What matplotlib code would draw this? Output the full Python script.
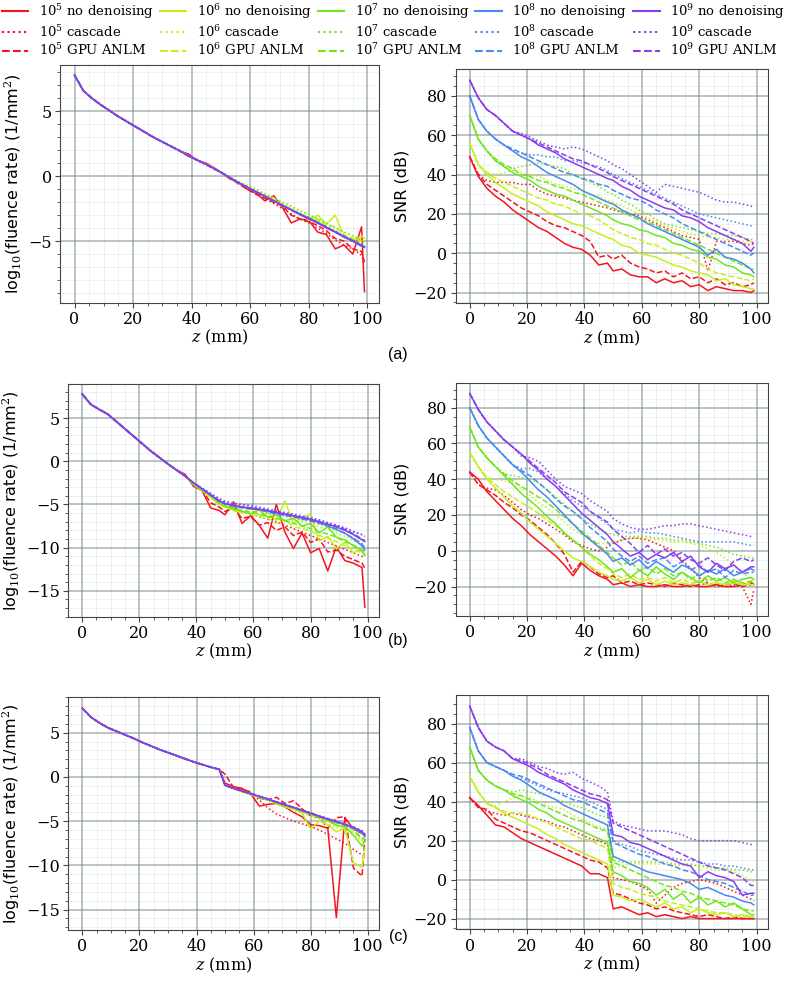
import matplotlib
matplotlib.use("Agg")
import matplotlib.pyplot as plt
from matplotlib.lines import Line2D
from matplotlib.ticker import MultipleLocator

plt.rcParams['font.family'] = ['DejaVu Serif']
plt.rcParams['mathtext.fontset'] = 'dejavuserif'

# ---------------- data ----------------
Z = [0, 3, 6, 9, 12, 15, 18, 21, 24, 27, 30, 33, 36, 39, 42, 45, 48,
     50, 53, 56, 59, 62, 65, 68, 71, 74, 77, 80, 83, 86, 89, 92, 95, 98, 99]

counts = ['5', '6', '7', '8', '9']
methods = ['nd', 'cas', 'anlm']
method_names = ['no denoising', 'cascade', 'GPU ANLM']
panel_labels = ['(a)', '(b)', '(c)']

# ---- SNR (dB), panel (a)
a_snr_5_nd = [49,39,33,29,26,22,19,16,13,11,8,5,3,2,-1,-6,-5, -9,-8,-11,-12,-12,-15,-13,-15,-14,-17,-16,-19,-17,-18,-19,-19,-20, -19]
a_snr_5_cas = [49,40,37,36,36,36,35,35,32,30,29,28,27,26,25,24,23, 22,21,20,19,17,15,13,11,9,8,7,-9,6,6,6,5,4, 5]
a_snr_5_anlm = [49,40,35,32,29,26,23,21,19,16,14,13,11,9,6,-2,-1, -3,-1,-5,-7,-8,-10,-9,-12,-10,-13,-12,-15,-13,-16,-15,-17,-16, -15]
a_snr_6_nd = [56,45,40,36,33,30,28,26,24,21,19,17,15,14,12,10,8, 7,4,3,0,-1,-2,-4,-6,-7,-9,-10,-11,-14,-13,-16,-17,-18, -18]
a_snr_6_cas = [56,45,41,40,41,42,41,40,39,37,35,34,33,32,30,29,27, 26,24,22,20,18,16,14,13,11,10,9,8,8,7,7,6,6, 6]
a_snr_6_anlm = [56,45,41,38,36,34,32,30,28,27,25,24,22,20,19,17,14, 12,10,8,7,5,4,2,0,-1,-3,-5,-8,-10,-11,-12,-13,-14, -13]
a_snr_7_nd = [70,58,52,47,44,41,39,37,34,32,30,29,27,25,23,21,19, 17,15,14,12,11,9,8,5,4,2,1,-2,-3,-6,-7,-10,-11, -12]
a_snr_7_cas = [70,58,52,47,44,43,44,45,46,45,44,43,40,38,36,34,31, 30,27,25,22,20,17,15,14,13,12,11,10,10,9,9,8,7, 7]
a_snr_7_anlm = [70,58,52,48,45,43,40,39,37,36,34,33,31,30,28,26,24, 23,21,19,17,16,14,12,10,8,6,4,2,0,-2,-4,-6,-8, -8]
a_snr_8_nd = [80,68,62,58,55,52,49,47,44,41,39,37,35,32,30,28,26, 25,22,20,18,15,13,11,9,7,5,3,-1,2,-2,-3,-5,-8, -10]
a_snr_8_cas = [80,68,62,58,55,52,51,50,50,49,49,47,47,46,45,44,42, 40,38,36,34,32,30,28,26,24,22,20,19,18,17,16,15,14, 13]
a_snr_8_anlm = [80,68,62,58,55,53,51,49,47,45,43,41,40,38,37,35,34, 32,30,28,27,25,22,20,18,15,13,11,9,7,5,3,1,-1, 0]
a_snr_9_nd = [88,79,73,70,66,62,60,58,55,53,51,48,46,44,42,40,38, 37,34,32,29,27,25,23,22,19,18,16,13,11,9,7,5,1, 3]
a_snr_9_cas = [88,79,73,70,66,62,61,59,57,55,54,53,54,53,51,49,47, 45,43,40,37,34,31,35,34,33,32,31,29,27,26,26,25,24, 23]
a_snr_9_anlm = [88,79,73,70,66,62,60,58,56,54,52,50,48,47,45,43,41, 39,37,35,33,31,29,27,25,22,20,18,16,14,12,10,8,6, 5]

# ---- SNR (dB), panel (b)
b_snr_5_nd = [44,40,33,28,23,18,14,9,5,1,-3,-8,-14,-7,-11,-14,-16, -19,-18,-20,-19,-20,-20,-19,-20,-20,-19,-20,-20,-19,-20,-20,-19,-18, -19]
b_snr_5_cas = [44,37,35,34,31,27,23,20,18,15,12,9,5,3,1,0,2, 4,6,7,7,6,4,2,0,-5,-10,-15,-18,-19,-20,-19,-20,-30, -22]
b_snr_5_anlm = [44,37,34,31,27,24,20,17,13,9,4,-2,-12,-6,-9,-13,-15, -14,-18,-17,-19,-18,-19,-20,-18,-19,-20,-19,-18,-20,-19,-18,-20,-19, -18]
b_snr_6_nd = [55,47,40,35,30,25,21,16,12,8,4,0,-4,-6,-9,-12,-14, -16,-17,-15,-18,-16,-19,-17,-19,-18,-19,-17,-19,-18,-19,-18,-19,-19, -19]
b_snr_6_cas = [55,47,41,40,39,38,35,31,27,24,20,16,12,9,6,4,4, 5,6,7,7,7,6,6,5,5,4,3,1,-1,-4,-8,-12,-16, -18]
b_snr_6_anlm = [55,47,41,37,33,30,27,24,21,17,14,10,6,2,-3,-7,-10, -13,-15,-13,-16,-15,-17,-15,-18,-16,-18,-17,-19,-18,-19,-17,-19,-18, -18]
b_snr_7_nd = [69,58,52,47,42,37,32,28,24,19,15,10,6,2,-2,-5,-9, -12,-10,-15,-11,-14,-9,-13,-16,-12,-15,-18,-14,-17,-15,-18,-16,-15, -16]
b_snr_7_cas = [69,58,52,47,43,42,41,40,38,34,30,26,22,18,15,12,10, 9,8,8,8,8,7,7,6,6,5,4,3,2,0,-2,-3,-4, -4]
b_snr_7_anlm = [69,58,52,47,43,39,36,33,30,27,23,19,15,11,7,3,-1, -4,-8,-6,-11,-9,-13,-10,-14,-12,-16,-13,-17,-15,-18,-16,-18,-17, -17]
b_snr_8_nd = [80,70,63,58,53,48,44,39,34,30,25,20,15,10,6,2,-2, -6,-4,-8,-5,-10,-6,-9,-12,-8,-10,-14,-11,-13,-10,-14,-12,-10, -11]
b_snr_8_cas = [80,70,63,58,53,48,46,46,44,40,36,32,28,25,22,18,15, 12,11,10,11,10,10,9,8,7,6,5,5,5,5,5,4,3, 3]
b_snr_8_anlm = [80,70,63,58,53,48,45,42,38,34,29,25,22,18,13,9,5, 1,-3,-6,-3,-7,-5,-4,-9,-6,-11,-8,-12,-10,-15,-11,-13,-12, -12]
b_snr_9_nd = [88,79,72,67,62,58,54,49,45,40,36,31,26,21,17,13,9, 5,1,-3,-1,-5,-2,-4,-1,-6,-3,-9,-12,-7,-10,-8,-12,-9, -9]
b_snr_9_cas = [88,79,72,67,62,58,53,52,50,45,40,36,34,32,28,25,22, 18,15,13,12,12,13,14,14,15,15,14,13,12,11,10,9,8, 8]
b_snr_9_anlm = [88,79,72,67,62,58,54,50,46,42,38,33,30,27,22,19,16, 12,8,4,-1,3,-2,1,-3,-1,-5,-7,-4,-8,-11,-6,-4,-6, -5]

# ---- SNR (dB), panel (c)
c_snr_5_nd = [42,38,33,28,27,24,21,19,17,15,13,11,9,7,3,3,1, -15,-14,-16,-18,-17,-19,-18,-19,-20,-19,-20,-20,-20,-20,-20,-20,-20, -20]
c_snr_5_cas = [42,37,35,34,33,34,33,32,31,30,28,27,25,23,21,20,18, 1,0,-1,-3,-5,-12,-8,-4,-2,-1,0,-1,-2,-4,-6,-8,-10, -11]
c_snr_5_anlm = [42,37,36,31,29,27,25,24,22,20,18,16,14,12,10,9,6, -7,-8,-10,-12,-13,-15,-14,-16,-17,-18,-19,-18,-19,-20,-19,-20,-20, -20]
c_snr_6_nd = [53,45,39,37,34,32,30,28,26,23,21,18,16,14,12,10,8, -8,-9,-11,-10,-12,-14,-12,-15,-14,-17,-15,-17,-18,-17,-19,-18,-19, -19]
c_snr_6_cas = [53,45,39,38,40,42,43,42,40,38,37,36,33,31,29,27,26, 6,7,8,8,8,8,8,7,7,7,7,6,5,5,4,2,0, -1]
c_snr_6_anlm = [53,45,39,37,35,34,34,33,31,29,27,25,23,21,20,18,16, -2,-4,-5,-7,-8,-9,-11,-12,-13,-14,-15,-16,-17,-17,-18,-19,-19, -19]
c_snr_7_nd = [68,56,51,48,46,43,41,39,36,34,31,29,27,25,23,21,19, 4,2,-1,-2,-4,-8,-5,-10,-7,-12,-9,-13,-11,-14,-12,-15,-18, -18]
c_snr_7_cas = [68,56,51,48,46,45,46,45,44,43,41,40,38,37,35,33,32, 10,9,9,9,9,9,9,8,8,8,7,7,6,6,5,5,4, 4]
c_snr_7_anlm = [68,56,51,48,46,44,43,41,39,37,35,33,31,30,28,26,25, 9,7,5,3,1,-1,-3,-4,-6,-7,-9,-10,-11,-12,-13,-15,-16, -16]
c_snr_8_nd = [78,66,60,58,56,53,51,48,45,43,41,38,36,34,32,30,28, 12,10,8,6,4,3,2,1,0,-2,-5,-4,-6,-8,-9,-11,-12, -13]
c_snr_8_cas = [78,66,60,58,56,53,52,50,48,46,45,44,43,42,40,38,36, 20,18,17,15,14,13,12,11,10,10,9,8,8,7,7,6,5, 5]
c_snr_8_anlm = [78,66,60,58,56,54,53,51,49,47,45,43,41,40,38,36,34, 19,17,15,13,12,10,8,7,5,4,2,0,-1,-2,-4,-6,-8, -8]
c_snr_9_nd = [89,78,71,68,66,62,60,58,55,53,51,49,46,44,42,41,39, 23,22,19,18,16,14,12,10,8,7,1,4,2,1,-1,-8,-7, -7]
c_snr_9_cas = [89,78,71,68,66,62,62,60,58,57,55,54,55,52,50,48,45, 30,28,27,26,25,25,25,24,23,21,20,20,20,20,20,19,18, 18]
c_snr_9_anlm = [89,78,71,68,66,62,61,59,57,54,52,50,48,46,44,43,41, 29,27,25,23,21,19,17,15,13,11,9,7,6,5,3,1,-3, -3]

# ---- log10 fluence rate: shared head (z = 0..33) and per-series tails (z = 36..99)
a_flu_head = [7.8,6.6,6.0,5.5,5.05,4.6,4.2,3.8,3.4,3.0,2.65,2.3]
a_flu_5_nd = [1.95,1.7,1.2,1.0,0.6, 0.3,-0.2,-0.5,-1.0,-1.3,-1.9,-1.5,-2.4,-3.6,-3.3,-3.4,-4.3,-4.5,-5.6,-5.3,-6.0,-3.9, -8.9]
a_flu_5_cas = [1.95,1.55,1.2,0.9,0.55, 0.3,-0.1,-0.5,-0.9,-1.3,-1.7,-2.1,-2.5,-2.9,-3.3,-3.6,-4.0,-4.4,-4.9,-5.3,-5.6,-6.1, -6.8]
a_flu_5_anlm = [1.95,1.6,1.2,0.9,0.5, 0.3,-0.1,-0.6,-1.0,-1.4,-1.7,-2.0,-2.3,-3.0,-3.3,-3.5,-3.8,-4.2,-4.8,-5.0,-5.6,-5.8, -6.6]
a_flu_6_nd = [1.95,1.55,1.25,0.9,0.55, 0.3,-0.1,-0.5,-0.85,-1.2,-1.5,-1.8,-2.2,-2.5,-2.9,-3.4,-3.0,-3.7,-3.0,-4.6,-5.0,-4.6, -4.8]
a_flu_6_cas = [1.95,1.55,1.25,0.9,0.55, 0.3,-0.1,-0.45,-0.75,-1.05,-1.4,-1.7,-2.0,-2.35,-2.7,-3.0,-3.3,-3.65,-4.0,-4.3,-4.6,-4.9, -5.0]
a_flu_6_anlm = [1.95,1.55,1.25,0.9,0.55, 0.3,-0.1,-0.5,-0.85,-1.2,-1.5,-1.85,-2.2,-2.55,-2.9,-3.2,-3.3,-3.8,-3.9,-4.5,-4.8,-5.0, -5.1]
a_flu_7_nd = [1.95,1.55,1.25,0.9,0.55, 0.3,-0.1,-0.5,-0.85,-1.2,-1.55,-1.9,-2.2,-2.6,-2.9,-3.2,-3.5,-3.9,-4.3,-4.7,-4.9,-5.3, -5.4]
a_flu_7_cas = [1.95,1.55,1.25,0.9,0.55, 0.3,-0.05,-0.4,-0.7,-1.0,-1.35,-1.65,-2.0,-2.3,-2.65,-2.95,-3.3,-3.6,-3.95,-4.3,-4.6,-4.95, -5.1]
a_flu_7_anlm = [1.95,1.55,1.25,0.9,0.55, 0.3,-0.1,-0.5,-0.85,-1.2,-1.5,-1.9,-2.2,-2.6,-2.9,-3.3,-3.5,-4.0,-4.2,-4.7,-4.9,-5.3, -5.4]
a_flu_8_nd = [1.95,1.55,1.25,0.9,0.55, 0.3,-0.1,-0.5,-0.85,-1.2,-1.55,-1.9,-2.25,-2.6,-2.95,-3.3,-3.6,-4.0,-4.3,-4.7,-5.0,-5.4, -5.5]
a_flu_8_cas = [1.95,1.55,1.25,0.9,0.55, 0.3,-0.1,-0.5,-0.85,-1.2,-1.55,-1.9,-2.25,-2.6,-2.9,-3.2,-3.55,-3.9,-4.25,-4.6,-4.95,-5.3, -5.4]
a_flu_8_anlm = [1.95,1.55,1.25,0.9,0.55, 0.3,-0.1,-0.5,-0.85,-1.2,-1.55,-1.9,-2.25,-2.6,-2.95,-3.25,-3.6,-3.95,-4.3,-4.65,-5.0,-5.35, -5.45]
a_flu_9_nd = [1.95,1.55,1.25,0.9,0.55, 0.3,-0.1,-0.5,-0.85,-1.2,-1.55,-1.9,-2.25,-2.6,-2.95,-3.25,-3.6,-3.95,-4.3,-4.65,-5.0,-5.35, -5.45]
a_flu_9_cas = [1.95,1.55,1.25,0.9,0.55, 0.3,-0.1,-0.5,-0.85,-1.2,-1.55,-1.9,-2.25,-2.6,-2.9,-3.25,-3.6,-3.9,-4.25,-4.6,-4.95,-5.3, -5.4]
a_flu_9_anlm = [1.95,1.55,1.25,0.9,0.55, 0.3,-0.1,-0.5,-0.85,-1.2,-1.55,-1.9,-2.25,-2.6,-2.95,-3.25,-3.6,-3.95,-4.3,-4.65,-5.0,-5.35, -5.45]

b_flu_head = [7.8,6.6,6.0,5.45,4.6,3.75,2.9,2.05,1.2,0.45,-0.3,-1.0]
b_flu_5_nd = [-1.5,-2.9,-3.4,-5.4,-5.7, -6.2,-4.7,-7.2,-6.3,-7.4,-8.9,-5.0,-8.2,-10.1,-8.3,-10.6,-10.1,-12.7,-9.9,-11.5,-11.8,-12.3, -16.9]
b_flu_5_cas = [-1.7,-2.6,-3.2,-4.0,-4.9, -5.2,-5.5,-5.8,-6.1,-6.4,-6.7,-7.0,-7.4,-7.8,-8.2,-8.6,-9.0,-9.4,-9.8,-10.2,-10.6,-11.0, -11.2]
b_flu_5_anlm = [-1.6,-2.8,-3.3,-4.8,-5.3, -5.8,-5.5,-6.6,-6.4,-7.4,-7.1,-8.0,-7.6,-8.6,-8.2,-9.4,-9.0,-10.5,-10.3,-11.0,-11.4,-11.8, -12.4]
b_flu_6_nd = [-1.7,-2.7,-3.4,-4.2,-5.0, -5.3,-5.7,-6.0,-5.4,-6.3,-6.0,-6.8,-4.6,-7.2,-6.5,-6.1,-9.2,-8.7,-10.1,-9.4,-10.6,-10.2, -10.8]
b_flu_6_cas = [-1.7,-2.5,-3.1,-3.8,-4.5, -4.8,-5.1,-5.3,-5.5,-5.7,-5.9,-6.2,-6.4,-6.7,-7.0,-7.3,-7.6,-7.9,-8.3,-8.7,-9.2,-9.6, -9.9]
b_flu_6_anlm = [-1.7,-2.7,-3.4,-4.1,-4.9, -5.3,-5.6,-5.9,-6.1,-6.4,-6.6,-7.2,-6.8,-7.6,-7.8,-8.1,-8.6,-8.9,-9.3,-9.8,-10.2,-10.6, -10.9]
b_flu_7_nd = [-1.7,-2.6,-3.3,-4.0,-4.8, -5.2,-5.5,-5.8,-6.1,-5.6,-6.5,-6.2,-6.9,-6.6,-7.5,-7.2,-8.3,-7.6,-8.8,-9.1,-9.8,-10.4, -10.9]
b_flu_7_cas = [-1.7,-2.5,-3.1,-3.8,-4.5, -4.8,-5.0,-5.2,-5.4,-5.6,-5.8,-6.0,-6.3,-6.5,-6.8,-7.0,-7.3,-7.6,-8.0,-8.4,-8.9,-9.5, -9.8]
b_flu_7_anlm = [-1.7,-2.6,-3.3,-4.0,-4.8, -5.1,-5.4,-5.7,-5.9,-6.1,-6.4,-6.6,-6.9,-7.2,-7.5,-7.8,-8.2,-8.4,-8.8,-9.3,-9.7,-10.3, -10.7]
b_flu_8_nd = [-1.7,-2.5,-3.2,-3.9,-4.6, -4.9,-5.2,-5.3,-5.5,-5.6,-5.8,-6.0,-6.2,-6.3,-6.6,-6.8,-7.1,-7.5,-7.9,-8.3,-9.0,-9.8, -10.3]
b_flu_8_cas = [-1.7,-2.5,-3.1,-3.7,-4.3, -4.6,-4.8,-5.0,-5.1,-5.3,-5.5,-5.7,-5.9,-6.1,-6.3,-6.5,-6.8,-7.1,-7.4,-7.8,-8.2,-8.5, -8.7]
b_flu_8_anlm = [-1.7,-2.5,-3.2,-3.9,-4.6, -4.9,-5.2,-5.4,-5.5,-5.6,-5.9,-6.1,-6.3,-6.4,-6.7,-6.9,-7.2,-7.4,-7.8,-8.4,-8.9,-9.6, -10.0]
b_flu_9_nd = [-1.7,-2.5,-3.2,-3.9,-4.6, -4.9,-5.1,-5.3,-5.4,-5.55,-5.7,-5.9,-6.1,-6.3,-6.5,-6.7,-7.0,-7.3,-7.6,-8.0,-8.5,-9.1, -9.3]
b_flu_9_cas = [-1.7,-2.5,-3.2,-3.8,-4.4, -4.7,-4.9,-5.0,-5.2,-5.4,-5.6,-5.8,-6.0,-6.2,-6.4,-6.6,-6.8,-7.1,-7.4,-7.7,-8.1,-8.5, -8.7]
b_flu_9_anlm = [-1.7,-2.5,-3.2,-3.9,-4.6, -4.9,-5.1,-5.3,-5.45,-5.6,-5.7,-6.0,-6.1,-6.4,-6.5,-6.8,-7.0,-7.3,-7.5,-7.9,-8.4,-9.0, -9.2]

c_flu_head = [7.75,6.75,6.1,5.55,5.15,4.75,4.35,3.9,3.5,3.1,2.75,2.4]
c_flu_5_nd = [2.05,1.7,1.4,1.1,0.85, -0.7,-1.1,-1.3,-1.9,-3.3,-3.1,-3.0,-3.4,-4.0,-4.5,-5.4,-5.5,-5.8,-15.9,-4.6,-5.9,-6.4, -6.6]
c_flu_5_cas = [2.05,1.7,1.4,1.1,0.85, -0.9,-1.3,-1.6,-2.0,-2.6,-3.5,-4.2,-4.6,-5.0,-5.3,-5.6,-6.0,-6.5,-7.0,-7.5,-8.2,-8.8, -9.0]
c_flu_5_anlm = [2.05,1.7,1.4,1.1,0.85, 0.3,-1.2,-1.4,-1.7,-2.4,-2.6,-2.3,-3.0,-2.7,-3.6,-4.4,-4.6,-5.8,-4.6,-4.5,-10.3,-11.2, -7.0]
c_flu_6_nd = [2.05,1.7,1.4,1.1,0.85, -0.95,-1.3,-1.7,-2.0,-2.3,-2.6,-3.0,-3.4,-3.6,-4.1,-5.9,-5.0,-5.4,-6.2,-5.8,-9.7,-10.2, -8.0]
c_flu_6_cas = [2.05,1.7,1.4,1.1,0.85, -0.95,-1.35,-1.7,-2.0,-2.35,-2.7,-3.1,-3.4,-3.8,-4.1,-4.5,-4.9,-5.3,-5.7,-6.1,-6.6,-7.2, -7.4]
c_flu_6_anlm = [2.05,1.7,1.4,1.1,0.85, -0.95,-1.3,-1.6,-2.0,-2.3,-2.6,-2.9,-3.3,-3.6,-3.9,-4.3,-4.6,-5.0,-5.4,-5.8,-6.3,-7.0, -7.5]
c_flu_7_nd = [2.05,1.7,1.4,1.1,0.85, -0.95,-1.3,-1.6,-1.9,-2.3,-2.6,-2.9,-3.3,-3.5,-3.9,-4.2,-4.6,-4.9,-5.5,-5.6,-6.6,-7.8, -7.2]
c_flu_7_cas = [2.05,1.7,1.4,1.1,0.85, -0.95,-1.3,-1.65,-1.95,-2.25,-2.55,-2.9,-3.2,-3.5,-3.85,-4.15,-4.5,-4.85,-5.2,-5.5,-5.9,-6.4, -6.7]
c_flu_7_anlm = [2.05,1.7,1.4,1.1,0.85, -0.9,-1.3,-1.6,-1.9,-2.2,-2.6,-2.8,-3.2,-3.5,-3.8,-4.1,-4.5,-4.8,-5.2,-5.4,-6.0,-6.9, -7.1]
c_flu_8_nd = [2.05,1.7,1.4,1.1,0.85, -0.95,-1.3,-1.6,-1.9,-2.2,-2.5,-2.85,-3.15,-3.45,-3.8,-4.1,-4.45,-4.8,-5.1,-5.4,-5.8,-6.3, -6.8]
c_flu_8_cas = [2.05,1.7,1.4,1.1,0.85, -0.9,-1.25,-1.55,-1.85,-2.15,-2.45,-2.8,-3.1,-3.4,-3.75,-4.05,-4.4,-4.7,-5.0,-5.3,-5.65,-6.1, -6.4]
c_flu_8_anlm = [2.05,1.7,1.4,1.1,0.85, -0.95,-1.3,-1.6,-1.9,-2.2,-2.5,-2.85,-3.15,-3.45,-3.8,-4.1,-4.45,-4.75,-5.05,-5.35,-5.7,-6.2, -6.6]
c_flu_9_nd = [2.05,1.7,1.4,1.1,0.85, -0.95,-1.3,-1.6,-1.9,-2.2,-2.5,-2.85,-3.15,-3.45,-3.8,-4.1,-4.45,-4.75,-5.05,-5.35,-5.7,-6.2, -6.5]
c_flu_9_cas = [2.05,1.7,1.4,1.1,0.85, -0.95,-1.3,-1.6,-1.9,-2.2,-2.5,-2.8,-3.1,-3.4,-3.75,-4.05,-4.4,-4.7,-5.0,-5.3,-5.65,-6.1, -6.4]
c_flu_9_anlm = [2.05,1.7,1.4,1.1,0.85, -0.95,-1.3,-1.6,-1.9,-2.2,-2.5,-2.85,-3.15,-3.45,-3.8,-4.1,-4.45,-4.75,-5.05,-5.35,-5.7,-6.2, -6.5]

# ---------------- style ----------------
colors = {'5': '#f5141e', '6': '#c6f01c', '7': '#6ee81c', '8': '#4a88f2', '9': '#8a3cf0'}
styles = {'nd': '-', 'cas': ':', 'anlm': '--'}
LW = 1.1


def get_series(panel, kind, e, m):
    g = globals()
    if kind == 'snr':
        return g[f"{panel}_snr_{e}_{m}"]
    return g[f"{panel}_flu_head"] + g[f"{panel}_flu_{e}_{m}"]


W, H = 794, 993
fig = plt.figure(figsize=(W / 100, H / 100), dpi=100)


def px_axes(x0, y0, x1, y1):
    return fig.add_axes([x0 / W, 1 - y1 / H, (x1 - x0) / W, (y1 - y0) / H])


layout = {
    ('a', 'flu'): ((60, 64.7, 379, 302.7), (-9.75, 8.6)),
    ('a', 'snr'): ((455.5, 69.3, 768, 303), (-25.3, 93.5)),
    ('b', 'flu'): ((68, 384, 379, 616.7), (-18.0, 8.95)),
    ('b', 'snr'): ((455.5, 382.7, 768, 616), (-36.5, 94.0)),
    ('c', 'flu'): ((68.3, 697.3, 379, 930), (-17.3, 9.0)),
    ('c', 'snr'): ((455.5, 695, 768, 929.3), (-25.5, 94.7)),
}

for (panel, kind), (box, ylim) in layout.items():
    ax = px_axes(*box)
    for e in counts:
        for m in methods:
            ax.plot(Z, get_series(panel, kind, e, m), color=colors[e],
                    linestyle=styles[m], lw=LW)
    ax.set_xlim(-4.95, 103.95)
    ax.set_ylim(*ylim)
    ax.xaxis.set_major_locator(MultipleLocator(20))
    ax.xaxis.set_minor_locator(MultipleLocator(5))
    ax.yaxis.set_major_locator(MultipleLocator(5 if kind == 'flu' else 20))
    ax.yaxis.set_minor_locator(MultipleLocator(1 if kind == 'flu' else 5))
    # translucent grids so crossings never break the major lines
    ax.grid(which='major', color=(0.45, 0.53, 0.53), alpha=0.5, lw=1.4, linestyle='-')
    ax.grid(which='minor', color=(0.45, 0.55, 0.55), alpha=0.14, lw=0.6, linestyle='-')
    ax.set_axisbelow(True)
    ax.tick_params(which='major', labelsize=11.5, length=3.5, width=0.8,
                   pad=2.5, color='#444444')
    ax.tick_params(which='minor', length=2, width=0.6, color='#444444')
    for s in ax.spines.values():
        s.set_color('#444444')
        s.set_linewidth(0.8)
    ax.set_xlabel('$z$ (mm)', fontsize=11.5, labelpad=0)
    if kind == 'flu':
        ax.set_ylabel('log$_{10}$(fluence rate) (1/mm$^2$)', fontsize=11.5,
                      family='DejaVu Sans', labelpad=3)
    else:
        ax.set_ylabel('SNR (dB)', fontsize=11.5, family='DejaVu Sans', labelpad=3)

for lab, y in zip(panel_labels, [355, 640, 937]):
    fig.text(398 / W, 1 - y / H, lab, ha='center', va='center',
             fontsize=11.5, family='Liberation Sans')

handles, labels = [], []
for e in counts:
    for m, mn in zip(methods, method_names):
        handles.append(Line2D([], [], color=colors[e], linestyle=styles[m], lw=1.5))
        labels.append(f'$10^{e}$ {mn}')

fig.legend(handles, labels, loc='upper left', bbox_to_anchor=(0.0, 1.0),
           ncol=5, frameon=False, fontsize=9.5, handlelength=2.0,
           handletextpad=0.8, columnspacing=0.45, borderpad=0.15,
           borderaxespad=0.0, labelspacing=0.22)

fig.savefig('out.png', dpi=100)
